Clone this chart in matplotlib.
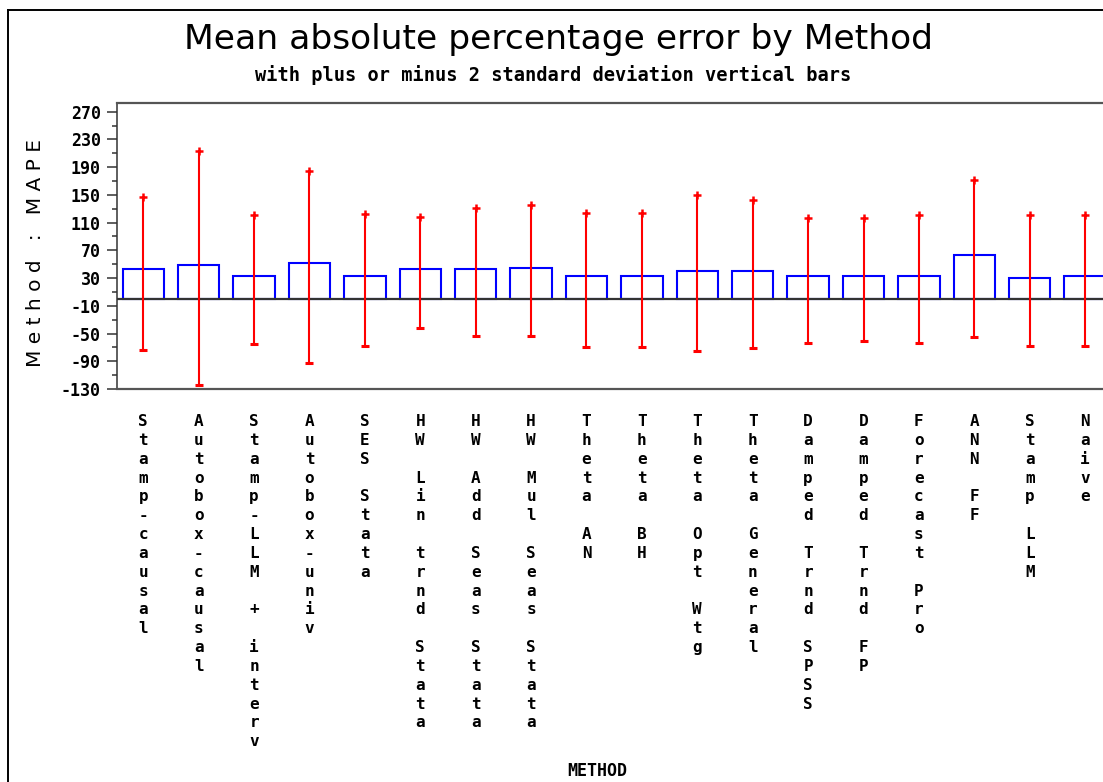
import matplotlib
matplotlib.use("Agg")
import matplotlib.pyplot as plt
from matplotlib.lines import Line2D
import numpy as np

methods = ["Stamp-causal", "Autobox-causal", "Stamp-LLM + interv", "Autobox-univ",
           "SES Stata", "HW Lin trnd Stata", "HW Add Seas Stata", "HW Mul Seas Stata",
           "Theta AN", "Theta BH", "Theta Opt Wtg", "Theta General",
           "Damped Trnd SPSS", "Damped Trnd FP", "Forecast Pro", "ANN FF",
           "Stamp LLM", "Naive"]
mape_mean = [42.7, 49.5, 32.6, 51.4, 32.6, 42.7, 42.7, 44.7, 32.6, 32.6,
             40.8, 40.8, 32.6, 32.6, 32.6, 63.4, 30.2, 32.6]
bar_upper = [147.5, 213.4, 120.6, 185.0, 122.6, 118.3, 131.7, 135.6, 124.5, 124.5,
             149.5, 143.2, 116.8, 116.8, 121.1, 172.0, 121.1, 121.1]
bar_lower = [-73.6, -124.6, -65.4, -91.9, -67.4, -42.4, -52.9, -52.9, -69.3, -69.3,
             -75.5, -71.2, -63.0, -61.1, -63.0, -54.8, -67.4, -67.4]
ytick_major = list(range(-130, 271, 40))
ytick_minor = list(range(-110, 251, 40))

W, H, DPI = 1103, 782, 100
fig = plt.figure(figsize=(W / DPI, H / DPI), dpi=DPI)
fig.patch.set_facecolor("white")

def fx(px):
    return px / W

def fy(py):
    return 1 - py / H

ax_left, ax_top, ax_right, ax_bottom = 116.7, 102.7, 1111.7, 389.0
ax = fig.add_axes([fx(ax_left), fy(ax_bottom), (ax_right - ax_left) / W, (ax_bottom - ax_top) / H])

x = np.arange(len(methods))
ax.bar(x, mape_mean, width=0.75, color="white", edgecolor="#0000ff", linewidth=1.5, zorder=2)
ax.axhline(0, color="#333333", linewidth=1.6, zorder=3)
ax.vlines(x, bar_lower, bar_upper, color="#ff0000", linewidth=1.5, zorder=4)
ax.plot(x, bar_upper, linestyle="none", marker="+", markersize=6, markeredgewidth=1.8,
        color="#ff0000", zorder=5)
ax.plot(x, bar_lower, linestyle="none", marker="_", markersize=6, markeredgewidth=2.2,
        color="#ff0000", zorder=5)

ax.set_xlim(-0.48, len(methods) - 0.52)
ax.set_ylim(-130, 283)
ax.set_yticks(ytick_major)
ax.set_yticks(ytick_minor, minor=True)
ax.set_yticklabels([str(v) for v in ytick_major], family="DejaVu Sans Mono",
                   fontweight="bold", fontsize=12)
ax.tick_params(axis="y", which="major", direction="out", length=7.5, width=1.1,
               color="#333333", pad=4)
ax.tick_params(axis="y", which="minor", direction="out", length=3.8, width=1.1,
               color="#333333")

ax.set_xticks(x)
ax.set_xticklabels(["\n".join(m) for m in methods], family="DejaVu Sans Mono",
                   fontweight="bold", fontsize=11.5, linespacing=1.32,
                   ha="center", va="top")
ax.tick_params(axis="x", length=0, pad=18)

for side in ["top", "bottom"]:
    ax.spines[side].set_color("#555555")
    ax.spines[side].set_linewidth(1.6)
ax.spines["left"].set_color("#333333")
ax.spines["left"].set_linewidth(1.1)
ax.spines["right"].set_visible(False)

fig.text(fx(558), fy(39), "Mean absolute percentage error by Method",
         family="DejaVu Sans", fontsize=24.8, ha="center", va="center")
fig.text(fx(553), fy(75), "with plus or minus 2 standard deviation vertical bars",
         family="DejaVu Sans Mono", fontweight="bold", fontsize=13.4, ha="center", va="center")
fig.text(fx(36), fy(253), " ".join("Method : MAPE"), family="DejaVu Sans",
         fontsize=14.5, rotation=90, ha="center", va="center")
fig.text(fx(597), fy(771.5), "METHOD", family="DejaVu Sans Mono", fontweight="bold",
         fontsize=12, ha="center", va="center")

fig.add_artist(Line2D([fx(7.5), fx(7.5)], [fy(10), fy(790)], transform=fig.transFigure,
                      color="black", linewidth=1.4))
fig.add_artist(Line2D([fx(7.5), fx(1110)], [fy(10), fy(10)], transform=fig.transFigure,
                      color="black", linewidth=1.4))

fig.savefig("out.png", dpi=DPI)
